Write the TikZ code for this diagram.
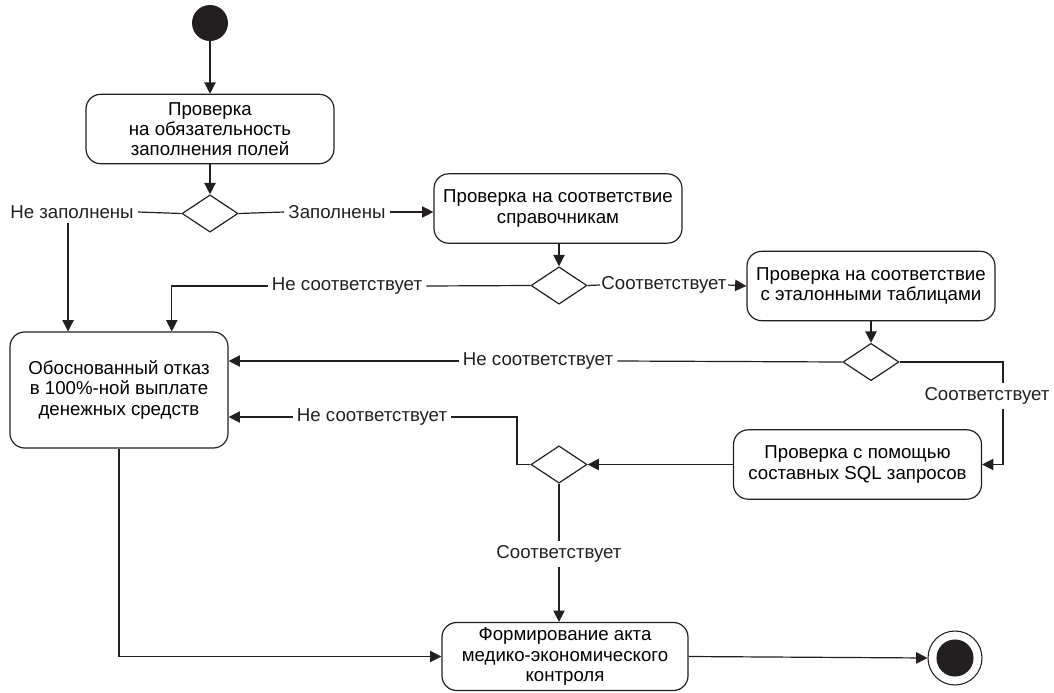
\documentclass[tikz,border=0pt]{standalone}
\usepackage{fontspec}
\setmainfont{Liberation Sans}
\usepackage{tikz}
\usepackage{xcolor}
\usetikzlibrary{arrows.meta,positioning,shapes.geometric}
\definecolor{umlInk}{HTML}{231F20}

\begin{document}
\begin{tikzpicture}[x=0.75pt,y=-0.75pt,
    font=\fontsize{14pt}{15.2pt}\selectfont,
    action/.style={draw=umlInk,rounded corners=11pt,line width=0.9pt,
                   minimum width=186pt,minimum height=52pt,align=center,inner sep=2pt},
    decision/.style={draw=umlInk,diamond,aspect=1.5,line width=0.9pt,
                     minimum width=42pt,minimum height=28pt,inner sep=0pt},
    guard/.style={inner sep=3pt,text=umlInk},
    flow/.style={draw=umlInk,line width=0.9pt,-{Triangle[length=8.5pt,width=8.5pt]}},
    wire/.style={draw=umlInk,line width=0.9pt}]
    \useasboundingbox (0,0) rectangle (1054,693);
    \node[circle,fill=umlInk,minimum size=27pt,inner sep=0pt] (start) at (210,23) {};
    \node[action] (chkFill) at (210,129) {Проверка\\на обязательность\\заполнения полей};
    \node[decision] (decFill) at (210,213.5) {};
    \node[guard] (lblEmpty) at (72,212) {Не заполнены};
    \node[guard] (lblFilled) at (337,212) {Заполнены};
    \node[action] (chkRef) at (558,208.5) {Проверка на соответствие\\справочникам};
    \node[decision] (decRef) at (559,285.5) {};
    \node[guard] (lblRefNo) at (347,286) {Не соответствует};
    \node[guard,inner xsep=1pt] (lblRefYes) at (664,285) {Соответствует};
    \node[action] (chkTab) at (871,286) {Проверка на соответствие\\с эталонными таблицами};
    \node[decision] (decTab) at (871,362) {};
    \node[guard] (lblTabNo) at (538,361) {Не соответствует};
    \node[guard] (lblTabYes) at (987,396) {Соответствует};
    \node[action] (chkSql) at (857.5,464.5) {Проверка с помощью\\составных SQL запросов};
    \node[decision] (decSql) at (559,464.5) {};
    \node[guard] (lblSqlNo) at (372,417) {Не соответствует};
    \node[guard] (lblSqlYes) at (559,554) {Соответствует};
    \node[action,minimum width=163.5pt,minimum height=87pt] (refuse) at (119,390)
      {Обоснованный отказ\\в 100\%-ной выплате\\денежных средств};
    \node[action,minimum width=184.5pt,minimum height=51pt] (act) at (565,656.5)
      {Формирование акта\\медико-экономического\\контроля};
    \node[circle,draw=umlInk,line width=0.8pt,minimum size=40.5pt,inner sep=0pt] (stop) at (955,658) {};
    \fill[umlInk] (stop.center) circle (13.9pt);
    \coordinate (turnTab) at (1003,362);
    \coordinate (turnSql) at (517,417);

    \draw[flow] (start) -- (chkFill);
    \draw[flow] (chkFill) -- (decFill);
    \draw[wire] (decFill.west) -- (lblEmpty.east);
    \draw[flow] (lblEmpty.south -| refuse.131) -- (refuse.131);
    \draw[wire] (decFill.east) -- (lblFilled.west);
    \draw[flow] (lblFilled.east) -- (lblFilled.east -| chkRef.west);
    \draw[flow] (chkRef.south -| decRef.north) -- (decRef.north);
    \draw[wire] (decRef.west) -- (lblRefNo.east);
    \draw[flow] (lblRefNo.west) -| (refuse.48);
    \draw[wire] (decRef.east) -- (lblRefYes.west);
    \draw[flow] (lblRefYes.east) -- (chkTab.west);
    \draw[flow] (chkTab) -- (decTab);
    \draw[wire] (decTab.west) -- (lblTabNo.east);
    \draw[flow] (lblTabNo.west) -- (lblTabNo.west -| refuse.east);
    \draw[wire] (decTab.east) -- (turnTab) -- (turnTab |- lblTabYes.north);
    \draw[flow] (turnTab |- lblTabYes.south) |- (chkSql.east);
    \draw[flow] (chkSql.west) -- (decSql.east);
    \draw[wire] (decSql.west) -| (turnSql) -- (lblSqlNo.east);
    \draw[flow] (lblSqlNo.west) -- (lblSqlNo.west -| refuse.east);
    \draw[wire] (decSql.south) -- (lblSqlYes.north);
    \draw[flow] (lblSqlYes.south) -- (lblSqlYes.south |- act.north);
    \draw[flow] (refuse.south) |- (act.west);
    \draw[flow] (act.east) -- (stop.west);
  \end{tikzpicture}
\end{document}
